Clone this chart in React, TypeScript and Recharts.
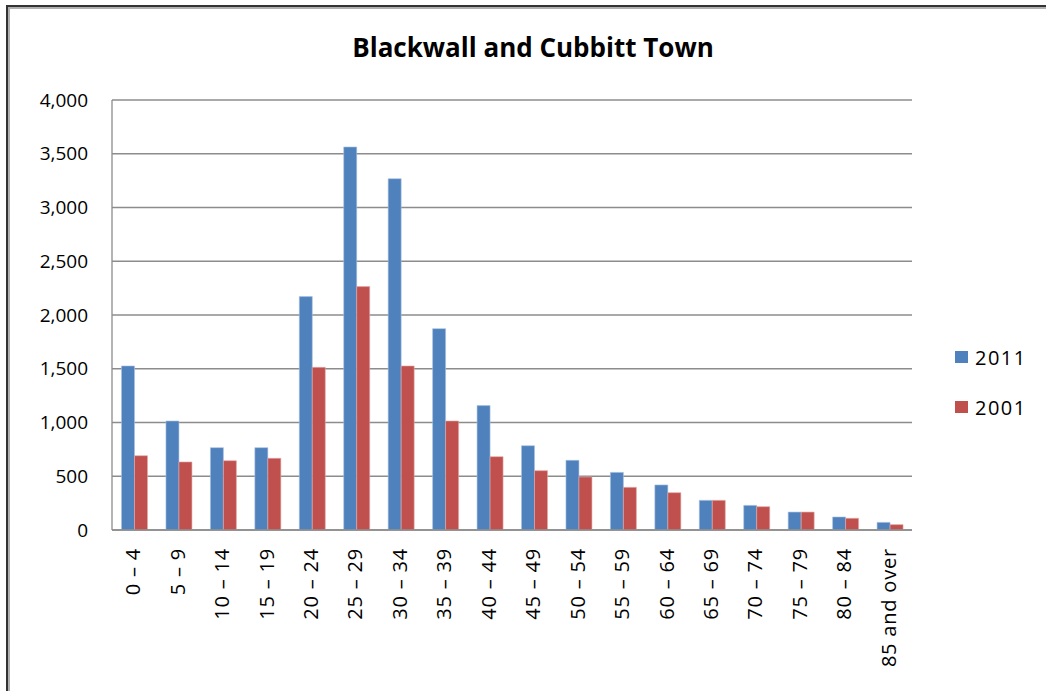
import React from 'react'
import { BarChart, Bar, XAxis, YAxis, CartesianGrid } from 'recharts'

const ageBands = [
  '0 – 4', '5 – 9', '10 – 14', '15 – 19', '20 – 24', '25 – 29', '30 – 34', '35 – 39', '40 – 44',
  '45 – 49', '50 – 54', '55 – 59', '60 – 64', '65 – 69', '70 – 74', '75 – 79', '80 – 84', '85 and over',
]
const pop2011 = [1526, 1014, 766, 766, 2171, 3563, 3268, 1873, 1157, 784, 648, 536, 419, 276, 229, 167, 121, 71]
const pop2001 = [691, 633, 645, 667, 1513, 2264, 1526, 1014, 682, 552, 493, 397, 347, 276, 217, 167, 109, 50]
const yTicks = [0, 500, 1000, 1500, 2000, 2500, 3000, 3500, 4000]

const rows = ageBands.map((band, i) => ({ band, y2011: pop2011[i], y2001: pop2001[i] }))

const FONT = '"Open Sans", "Noto Sans", sans-serif'
const BLUE = '#4F81BD'
const RED = '#C0504D'

const fmt = (v: number) => v.toLocaleString('en-US')

const BandTick = ({ x, y, payload }: any) => (
  <text
    x={x}
    y={y}
    transform={`rotate(-90, ${x}, ${y})`}
    textAnchor="end"
    dy={6}
    dx={-10}
    fill="#000"
    fontSize={20}
    letterSpacing={0.8}
    fontFamily={FONT}
  >
    {payload.value}
  </text>
)

const legendItems = [
  { label: '2011', color: BLUE },
  { label: '2001', color: RED },
]

export default function App() {
  return (
    <div style={{ position: 'absolute', left: 0, top: 0, width: 1046, height: 691, background: '#fff', overflow: 'hidden' }}>
      <div
        style={{
          position: 'absolute', left: 6, top: 5, width: 1046, height: 700,
          borderLeft: '2px solid #333', borderTop: '2px solid #333',
          boxShadow: 'inset 2px 2px 0 #b0b0b0',
        }}
      />
      <div
        style={{
          position: 'absolute', left: 0, top: 29, width: 1066, textAlign: 'center',
          fontFamily: FONT, fontWeight: 'bold', fontSize: 26, color: '#000',
        }}
      >
        Blackwall and Cubbitt Town
      </div>
      <div style={{ position: 'absolute', left: 0, top: 0 }}>
        <BarChart
          width={1046}
          height={691}
          data={rows}
          margin={{ top: 100, right: 134, bottom: 11, left: 0 }}
          barCategoryGap="21.4%"
          barGap={0}
        >
          <CartesianGrid vertical={false} stroke="#8c8c8c" strokeWidth={1.3} />
          <XAxis
            dataKey="band"
            interval={0}
            height={150}
            tick={<BandTick />}
            tickLine={false}
            axisLine={{ stroke: '#8c8c8c', strokeWidth: 1.3 }}
          />
          <YAxis
            width={112}
            domain={[0, 4000]}
            ticks={yTicks}
            tickFormatter={fmt}
            tickLine={false}
            tickMargin={18}
            axisLine={{ stroke: '#8c8c8c', strokeWidth: 1.3 }}
            tick={{ fill: '#000', fontSize: 19, fontFamily: FONT }}
          />
          <Bar dataKey="y2011" name="2011" fill={BLUE} stroke="#a9c1e0" strokeWidth={0.6} isAnimationActive={false} />
          <Bar dataKey="y2001" name="2001" fill={RED} stroke="#e0a9a8" strokeWidth={0.6} isAnimationActive={false} />
        </BarChart>
      </div>
      <div style={{ position: 'absolute', left: 955, top: 342, fontFamily: FONT, fontSize: 20, letterSpacing: 1.5, color: '#000' }}>
        {legendItems.map((it, i) => (
          <div key={it.label} style={{ display: 'flex', alignItems: 'center', height: 30, marginTop: i ? 20 : 0 }}>
            <span style={{ width: 13, height: 12, background: it.color, display: 'inline-block', marginRight: 7 }} />
            <span>{it.label}</span>
          </div>
        ))}
      </div>
    </div>
  )
}
